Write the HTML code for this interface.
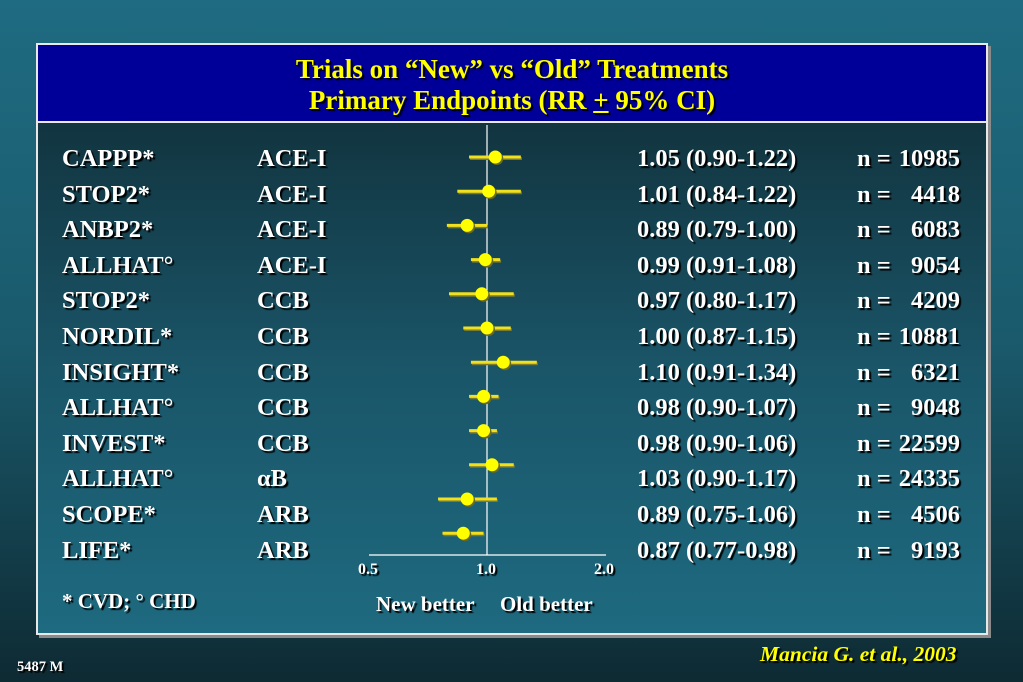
<!DOCTYPE html>
<html><head><meta charset="utf-8"><style>
html,body{margin:0;padding:0}
body{width:1023px;height:682px;overflow:hidden;background:linear-gradient(#1f6b81,#1a5a6c 50%,#0e2a33);position:relative;font-family:"Liberation Serif",serif;font-weight:bold}
#panel{position:absolute;left:36px;top:43px;width:948px;height:588px;border:2px solid #e8e8e8;box-shadow:3px 3px 0 #8a8a8a;background:linear-gradient(#0f2a33,#1a5568 55%,#1e6a80)}
#header{position:absolute;left:0;top:0;width:948px;height:78px;background:#000099;border-bottom:2px solid #e8e8e8;color:#ffff00;text-align:center;font-size:27px;line-height:31px;padding-top:9px;box-sizing:border-box;text-shadow:2px 2px 1px #000}
.t{position:absolute;color:#fff;font-size:24.5px;text-shadow:2px 2px 1px #000;white-space:pre;line-height:28px}
svg{position:absolute;left:0;top:0}
</style></head><body>
<div id="panel">
<div id="header">Trials on “New” vs “Old” Treatments<br>Primary Endpoints (RR <u>+</u> 95% CI)</div>
</div>
<div id="rows"></div>
<svg id="chart" width="1023" height="682"></svg>
<div class="t" style="left:62px;top:587px;font-size:21px">* CVD; ° CHD</div>
<div class="t" style="left:376px;top:590px;font-size:21px">New better</div>
<div class="t" style="left:500px;top:590px;font-size:21px">Old better</div>
<div class="t" style="left:760px;top:640px;font-size:21.5px;color:#ffff00;font-style:italic">Mancia G. et al., 2003</div>
<div class="t" style="left:17px;top:653px;font-size:14.5px">5487 M</div>
<script>
const trials=["CAPPP*","STOP2*","ANBP2*","ALLHAT°","STOP2*","NORDIL*","INSIGHT*","ALLHAT°","INVEST*","ALLHAT°","SCOPE*","LIFE*"];
const classes=["ACE-I","ACE-I","ACE-I","ACE-I","CCB","CCB","CCB","CCB","CCB","αB","ARB","ARB"];
const rr=[1.05,1.01,0.89,0.99,0.97,1.00,1.10,0.98,0.98,1.03,0.89,0.87];
const lo=[0.90,0.84,0.79,0.91,0.80,0.87,0.91,0.90,0.90,0.90,0.75,0.77];
const hi=[1.22,1.22,1.00,1.08,1.17,1.15,1.34,1.07,1.06,1.17,1.06,0.98];
const ns=["10985","4418","6083","9054","4209","10881","6321","9048","22599","24335","4506","9193"];
const ticks=[0.5,1.0,2.0];
const tickLabels=["0.5","1.0","2.0"];
const NS="http://www.w3.org/2000/svg";
const svg=document.getElementById('chart');
const rows=document.getElementById('rows');
const x=v=>487+Math.log2(v)*118;
const yDot=i=>157+i*34.2;
const yText=i=>157+i*35.6;
function mk(tag,a){const e=document.createElementNS(NS,tag);for(const k in a)e.setAttribute(k,a[k]);svg.appendChild(e);return e;}
let ax=mk('line',{x1:x(0.5),x2:x(2.0)+1,y1:555,y2:555,stroke:'#fff','stroke-width':1.2});


let rl=mk('line',{x1:x(1),x2:x(1),y1:125,y2:555,stroke:'#fff','stroke-width':1.2});


ticks.forEach((t,i)=>{
  const d=document.createElement('div');d.className='t';d.textContent=tickLabels[i];
  d.style.cssText='font-size:16px;line-height:20px;top:'+(560)+'px;left:'+(x(t)-11)+'px';
  
  
  document.body.appendChild(d);
});
rr.forEach((v,i)=>{
  const y=yDot(i);
  mk('line',{x1:x(lo[i])+1,x2:x(hi[i])+1,y1:y+1.5,y2:y+1.5,stroke:'#7a7a30','stroke-width':3});
  let l=mk('line',{x1:x(lo[i]),x2:x(hi[i]),y1:y,y2:y,stroke:'#f0e020','stroke-width':3});
  
  
  mk('circle',{cx:x(v)+1.5,cy:y+1.5,r:6.5,fill:'#6a6a20'});
  let c=mk('circle',{cx:x(v),cy:y,r:6.5,fill:'#ffff00'});
  
  
  const ty=yText(i)-12;
  const cols=[[62,trials[i],'trial-name'],[257,classes[i],'drug-class'],[637,rr[i].toFixed(2)+' ('+lo[i].toFixed(2)+'-'+hi[i].toFixed(2)+')','rr-ci-value']];
  cols.forEach(cc=>{const d=document.createElement('div');d.className='t';d.textContent=cc[1];d.style.left=cc[0]+'px';d.style.top=ty+'px';
    
    
    rows.appendChild(d);});
  const n=document.createElement('div');n.className='t';n.style.left='857px';n.style.top=ty+'px';n.style.width='103px';
  n.innerHTML='<span style="position:absolute;left:0">n =</span><span style="position:absolute;right:0">'+ns[i]+'</span>';
  
  
  rows.appendChild(n);
});
</script>
</body></html>
